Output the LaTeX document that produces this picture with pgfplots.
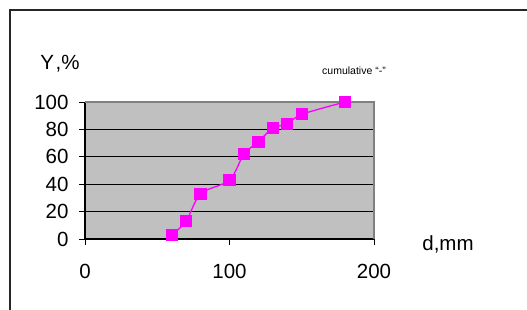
\documentclass[border=0pt]{standalone}
\usepackage{pgfplots}
\pgfplotsset{compat=1.18}
\usepackage{fontspec}
\setmainfont{Liberation Sans}
\definecolor{plotgray}{RGB}{192,192,192}
\definecolor{bordergray}{RGB}{128,128,128}
\definecolor{mag}{RGB}{255,0,255}
\begin{document}
\begin{tikzpicture}[x=1pt,y=1pt]
\useasboundingbox (0,0) rectangle (527,309);
\draw[line width=2pt,black!85] (10,-2) -- (10,299) -- (530,299);
\begin{axis}[
  at={(85pt,70pt)}, anchor=origin,
  scale only axis, width=289pt, height=137pt,
  xmin=0, xmax=200, ymin=0, ymax=100,
  xtick={0,100,200}, ytick={0,20,40,60,80,100},
  axis x line*=bottom, axis y line*=left,
  axis line style={black, line width=1.2pt, -},
  tick align=outside, major tick length=6pt,
  tick style={black, line width=1pt},
  ymajorgrids, grid style={black, line width=0.9pt},
  axis background/.style={fill=plotgray},
  /pgf/number format/assume math mode=true,
  ticklabel style={font=\fontsize{20.5}{24}\selectfont},
  yticklabel style={xshift=-7pt},
  xticklabel style={yshift=-16pt},
  clip=false,
]
\draw[bordergray, line width=1.2pt] (rel axis cs:0,1) -- (rel axis cs:1,1) -- (rel axis cs:1,0);
\addplot[mag, line width=1.3pt, smooth, mark=square*, mark size=5.5pt, mark options={solid, fill=mag, draw=mag}] coordinates {
(60,3) (70,13) (80,33) (100,43) (110,62) (120,71) (130,81) (140,84) (150,91) (180,100)
};
\end{axis}
\node[font=\fontsize{20.5}{24}\selectfont] at (60,245) {Y\kern1.5pt,\%};
\node[font=\fontsize{20.5}{24}\selectfont] at (448,65) {d,mm};
\node[font=\fontsize{10.5}{12}\selectfont] at (354,238) {cumulative “-”};
\end{tikzpicture}
\end{document}
